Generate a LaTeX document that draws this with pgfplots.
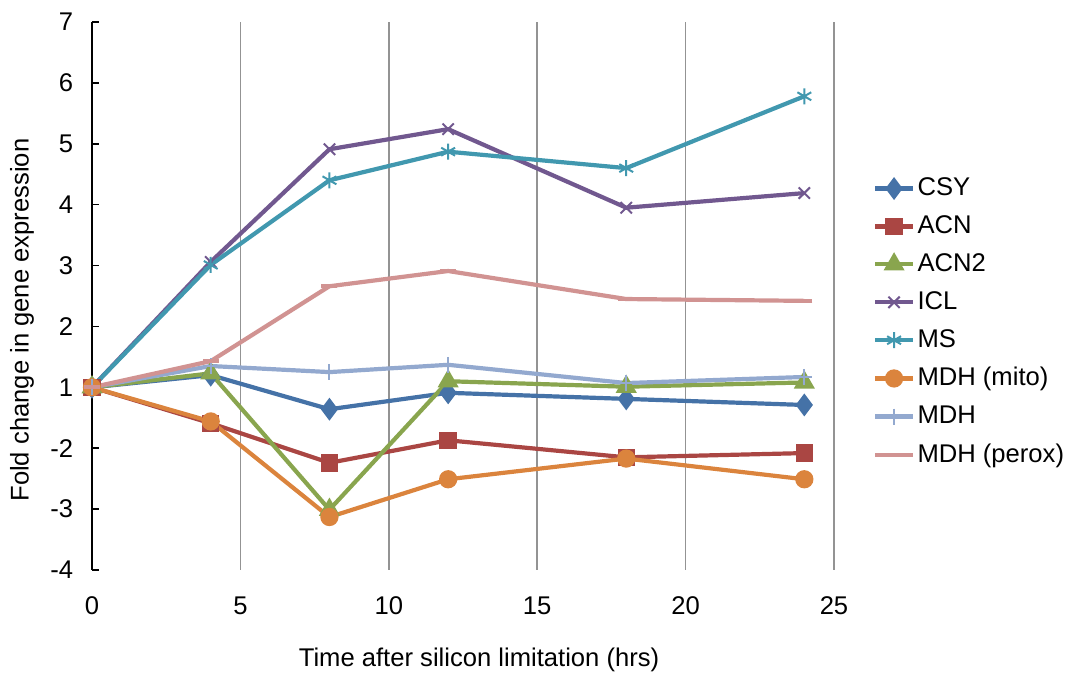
\documentclass[border=0pt]{standalone}
\usepackage{pgfplots}
\pgfplotsset{compat=1.18}
\usepackage{fontspec}
\setmainfont{Liberation Sans}
\definecolor{cCSY}{HTML}{4572A7}
\definecolor{cACN}{HTML}{AA4643}
\definecolor{cACNt}{HTML}{89A54E}
\definecolor{cICL}{HTML}{71588F}
\definecolor{cMS}{HTML}{4198AF}
\definecolor{cMito}{HTML}{DB843D}
\definecolor{cMDH}{HTML}{93A9CF}
\definecolor{cPerox}{HTML}{D19392}
\begin{document}
\fontsize{12.8}{15}\selectfont
\begin{tikzpicture}
\useasboundingbox (-46pt,-51.5pt) rectangle (490pt,285pt);
\begin{axis}[
  at={(0,0)}, anchor=south west,
  scale only axis, width=371pt, height=274pt,
  xmin=0, xmax=25, ymin=-2, ymax=7,
  xtick={0,5,...,25},
  ytick={-2,-1,0,1,2,3,4,5,6,7},
  yticklabels={-4,-3,-2,1,2,3,4,5,6,7},
  axis x line=bottom, axis y line=left,
  axis line style={-},
  x axis line style={draw=none},
  y axis line style={black, line width=0.8pt},
  x tick style={draw=none},
  y tick style={black, line width=0.8pt},
  tick align=inside, major tick length=3.5pt,
  xmajorgrids, grid style={gray!85, line width=0.8pt},
  font=\fontsize{12.8}{15}\selectfont,
  /pgf/number format/assume math mode=true,
  yticklabel style={xshift=-5pt},
  xticklabel style={yshift=-9pt},
  xlabel={Time after silicon limitation (hrs)},
  ylabel={Fold change in gene expression},
  xlabel style={at={(axis description cs:0.5216,-0.164)}, anchor=center},
  ylabel style={at={(axis description cs:-0.0943,0.456)}, rotate=0, anchor=center},
  legend style={at={(axis description cs:1.052,0.721)}, anchor=north west, draw=none, fill=none,
    row sep=5.7pt, font=\fontsize{12.8}{15}\selectfont, inner sep=0pt,
    nodes={inner sep=1.2pt}},
  legend cell align=left,
  legend image code/.code={\draw[mark repeat=2,mark phase=2] plot coordinates {(0pt,0pt) (9.5pt,0pt) (19pt,0pt)};},
  every axis plot/.append style={line width=2.1pt},
  clip=false,
]
\addplot[color=cCSY, mark=diamond*, mark size=4pt, mark options={solid}] coordinates {(0,1) (4,1.20) (8,0.64) (12,0.91) (18,0.81) (24,0.71)};
\addlegendentry{CSY}
\addplot[color=cACN, mark=square*, mark size=3.3pt] coordinates {(0,1) (4,0.41) (8,-0.24) (12,0.13) (18,-0.15) (24,-0.08)};
\addlegendentry{ACN}
\addplot[color=cACNt, mark=triangle*, mark size=4pt] coordinates {(0,1) (4,1.23) (8,-1.01) (12,1.10) (18,1.01) (24,1.08)};
\addlegendentry{ACN2}
\addplot[color=cICL, mark=x, mark size=4pt, mark options={line width=1pt}] coordinates {(0,1) (4,3.06) (8,4.91) (12,5.24) (18,3.95) (24,4.19)};
\addlegendentry{ICL}
\addplot[color=cMS, mark=asterisk, mark size=4pt, mark options={line width=1pt}] coordinates {(0,1) (4,3.01) (8,4.40) (12,4.87) (18,4.60) (24,5.78)};
\addlegendentry{MS}
\addplot[color=cMito, mark=*, mark size=3.5pt] coordinates {(0,1) (4,0.44) (8,-1.13) (12,-0.51) (18,-0.17) (24,-0.51)};
\addlegendentry{MDH (mito)}
\addplot[color=cMDH, mark=+, mark size=4pt, mark options={line width=1pt}] coordinates {(0,1) (4,1.35) (8,1.25) (12,1.37) (18,1.07) (24,1.17)};
\addlegendentry{MDH}
\addplot[color=cPerox, mark=-, mark size=4pt] coordinates {(0,1) (4,1.43) (8,2.66) (12,2.91) (18,2.45) (24,2.42)};
\addlegendentry{MDH (perox)}
\end{axis}
\end{tikzpicture}
\end{document}
